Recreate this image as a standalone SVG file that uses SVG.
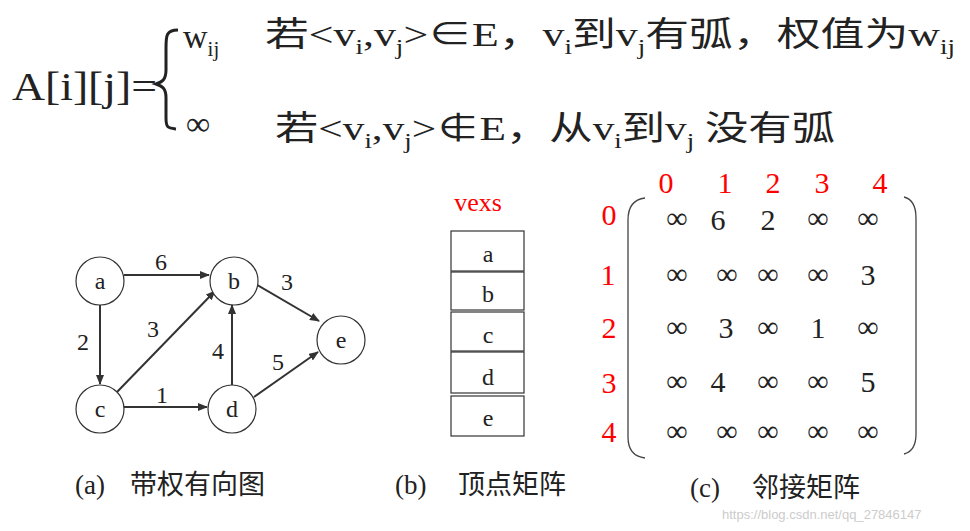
<svg xmlns="http://www.w3.org/2000/svg" width="970" height="531" viewBox="0 0 970 531">
<style>
text{font-family:"Liberation Serif","Noto Sans CJK SC",serif;fill:#222}
.f{font-size:34px}
.s{font-size:21px}
.n{font-size:24px;text-anchor:middle}
.r{fill:#f00;font-size:30px;text-anchor:middle}
.m{font-size:30px;text-anchor:middle}
.node circle{fill:#fff;stroke:#333;stroke-width:1.2}
.e line{stroke:#333;stroke-width:2;marker-end:url(#ah)}
.box{fill:#fff;stroke:#333;stroke-width:1.2}
.cap{font-size:27px}
</style>
<defs><marker id="ah" markerWidth="10" markerHeight="8" refX="9" refY="4" orient="auto" markerUnits="userSpaceOnUse"><path d="M0,0 L10,4 L0,8 z" fill="#333"/></marker></defs>
<rect width="970" height="531" fill="#fff"/>
<g id="formula">
<text x="12" y="100" style="font-size:40px" textLength="145" lengthAdjust="spacingAndGlyphs">A[i][j]=</text>
<path d="M178,30 C166,30 166,36 166,48 L166,70 C166,80 162,82 156,84 C162,86 166,88 166,98 L166,118 C166,128 168,128 176,129" fill="none" stroke="#222" stroke-width="3"/>
<text x="183" y="48" class="f">w<tspan class="s" dy="8">ij</tspan></text>
<text x="265" y="46" class="f" textLength="690" lengthAdjust="spacingAndGlyphs">若&lt;v<tspan class="s" dy="8">i</tspan><tspan dy="-8">,v</tspan><tspan class="s" dy="8">j</tspan><tspan dy="-8">&gt;∈E，v</tspan><tspan class="s" dy="8">i</tspan><tspan dy="-8">到v</tspan><tspan class="s" dy="8">j</tspan><tspan dy="-8">有弧，权值为w</tspan><tspan class="s" dy="8">ij</tspan></text>
<text x="186" y="135" class="f">∞</text>
<text x="275" y="140" class="f" textLength="560" lengthAdjust="spacingAndGlyphs">若&lt;v<tspan class="s" dy="8">i</tspan><tspan dy="-8">,v</tspan><tspan class="s" dy="8">j</tspan><tspan dy="-8">&gt;∉E，从v</tspan><tspan class="s" dy="8">i</tspan><tspan dy="-8">到v</tspan><tspan class="s" dy="8">j</tspan><tspan dy="-8"> 没有弧</tspan></text>
</g>
<g id="connectors" class="e">
<line x1="124" y1="275" x2="209" y2="275"/>
<line x1="100" y1="305" x2="100" y2="384"/>
<line x1="117" y1="392" x2="215" y2="291"/>
<line x1="124" y1="407" x2="207" y2="407"/>
<line x1="232" y1="385" x2="232" y2="305"/>
<line x1="254" y1="283" x2="319" y2="321"/>
<line x1="254" y1="397" x2="318" y2="352"/>
</g>
<g id="edge-labels" class="n">
<text x="161" y="270">6</text><text x="83" y="350">2</text><text x="153" y="337">3</text>
<text x="162" y="403">1</text><text x="218" y="359">4</text><text x="287" y="290">3</text><text x="278" y="370">5</text>
</g>
<g id="a" class="node"><circle cx="100" cy="281" r="24"/><text x="100" y="289" class="n">a</text></g>
<g id="b" class="node"><circle cx="234" cy="281" r="24"/><text x="234" y="289" class="n">b</text></g>
<g id="c" class="node"><circle cx="100" cy="409" r="24"/><text x="100" y="417" class="n">c</text></g>
<g id="d" class="node"><circle cx="232" cy="409" r="24"/><text x="232" y="417" class="n">d</text></g>
<g id="e" class="node"><circle cx="341" cy="340" r="24"/><text x="341" y="348" class="n">e</text></g>
<g id="vexs">
<text x="478" y="211" style="fill:#f00;font-size:26px;text-anchor:middle">vexs</text>
<rect class="box" x="451" y="231" width="73" height="40"/>
<rect class="box" x="451" y="272" width="73" height="38"/>
<rect class="box" x="451" y="312" width="73" height="39"/>
<rect class="box" x="451" y="352" width="73" height="41"/>
<rect class="box" x="451" y="396" width="73" height="40"/>
<text x="488" y="262" class="n">a</text><text x="488" y="302" class="n">b</text>
<text x="488" y="343" class="n">c</text><text x="488" y="385" class="n">d</text><text x="488" y="426" class="n">e</text>
</g>
<g id="matrix">
<text x="666" y="193" class="r">0</text><text x="725" y="193" class="r">1</text><text x="773" y="193" class="r">2</text><text x="822" y="193" class="r">3</text><text x="880" y="193" class="r">4</text>
<text x="609" y="225" class="r">0</text><text x="608" y="285" class="r">1</text><text x="609" y="338" class="r">2</text><text x="609" y="393" class="r">3</text><text x="609" y="442" class="r">4</text>
<path d="M645,198 Q628,200 628,220 L628,437 Q628,456 645,458" fill="none" stroke="#444" stroke-width="1.3"/>
<path d="M904,197 Q916,200 916,218 L916,434 Q916,451 904,454" fill="none" stroke="#444" stroke-width="1.3"/>
<g class="m">
<text x="677" y="228">∞</text><text x="718" y="230">6</text><text x="768" y="230">2</text><text x="818" y="228">∞</text><text x="868" y="228">∞</text>
<text x="677" y="284">∞</text><text x="727" y="284">∞</text><text x="768" y="284">∞</text><text x="818" y="284">∞</text><text x="868" y="285">3</text>
<text x="677" y="337">∞</text><text x="726" y="338">3</text><text x="768" y="337">∞</text><text x="818" y="338">1</text><text x="868" y="337">∞</text>
<text x="677" y="391">∞</text><text x="718" y="392">4</text><text x="768" y="391">∞</text><text x="818" y="391">∞</text><text x="868" y="392">5</text>
<text x="677" y="441">∞</text><text x="727" y="441">∞</text><text x="768" y="441">∞</text><text x="818" y="441">∞</text><text x="868" y="441">∞</text>
</g>
</g>
<g id="captions" class="cap">
<text x="75" y="494">(a)</text><text x="130" y="494">带权有向图</text>
<text x="395" y="494">(b)</text><text x="458" y="494">顶点矩阵</text>
<text x="690" y="497">(c)</text><text x="752" y="497">邻接矩阵</text>
</g>
<text x="722" y="519" style="font-family:'Liberation Sans',sans-serif;font-size:13px;fill:#ccc">https://blog.csdn.net/qq_27846147</text>
</svg>
